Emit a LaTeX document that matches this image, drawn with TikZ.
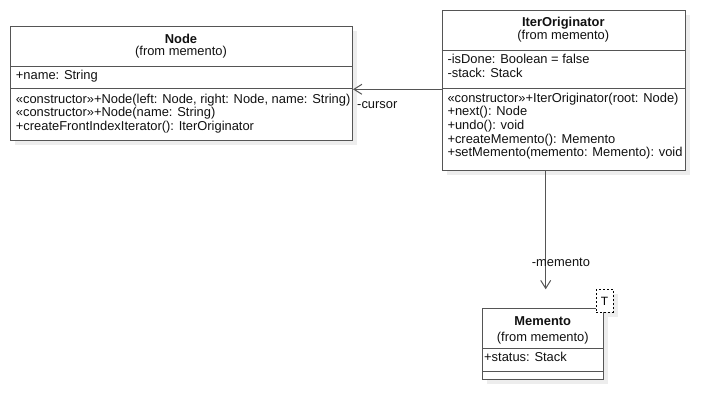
\documentclass[tikz,border=0pt]{standalone}
\usepackage{fontspec}
\setmainfont{Liberation Sans}
\usetikzlibrary{arrows.meta}
\definecolor{linec}{HTML}{555555}
\definecolor{shadowc}{HTML}{EDEDED}
\definecolor{textc}{HTML}{111111}
\tikzset{
  txt/.style={inner sep=0pt, anchor=base west, text=textc, font=\fontsize{12.9}{13.6}\selectfont},
  ttl/.style={inner sep=0pt, anchor=base, text=textc, font=\fontsize{12.9}{13.6}\selectfont\bfseries},
  sub/.style={inner sep=0pt, anchor=base, text=textc, font=\fontsize{12.9}{13.6}\selectfont},
  classbox/.style={draw=linec, line width=1pt, fill=white, inner sep=0pt, anchor=north west},
  shadowbox/.style={fill=shadowc, draw=none},
  sepline/.style={draw=linec, line width=1pt},
  tmpl/.style={draw=black, dashed, dash pattern=on 2pt off 2pt, line width=0.8pt, fill=white, inner sep=0pt, anchor=north west, minimum width=17pt, minimum height=22.4pt, font=\fontsize{12}{12}\selectfont},
  assoc/.style={draw=linec, line width=1pt, -{Straight Barb[length=8pt,width=10pt,line width=1pt]}},
}
\begin{document}
\begin{tikzpicture}[x=1pt,y=-1pt]
\useasboundingbox (0,0) rectangle (725,420);
% shadows
\fill[shadowc] (15,31) rectangle (357,145);
\fill[shadowc] (446.7,15) rectangle (690,175);
\fill[shadowc] (487.3,312.7) rectangle (608.3,384.3);
\fill[shadowc] (600.7,294.3) rectangle (617.7,316.7);
% Node class
\node[classbox, minimum width=342pt, minimum height=114pt] (node) at (10,26) {};
\draw[sepline] (10,66.7) -- (352,66.7);
\draw[sepline] (10,88.3) -- (352,88.3);
\node[ttl] (nodeT) at (181,43.3) {Node};
\node[sub] (nodeF) at (181,56) {(from memento)};
\node[txt] (nodeA) at (15.7,79) {+name: String};
\node[txt] (nodeO1) at (15.7,103.3) {«constructor»+Node(left: Node, right: Node, name: String)};
\node[txt] (nodeO2) at (15.7,116.7) {«constructor»+Node(name: String)};
\node[txt] (nodeO3) at (15.7,130) {+createFrontIndexIterator(): IterOriginator};
% IterOriginator class
\node[classbox, minimum width=243.3pt, minimum height=160pt] (iter) at (441.7,10) {};
\draw[sepline] (441.7,50.7) -- (685,50.7);
\draw[sepline] (441.7,88.3) -- (685,88.3);
\node[ttl] (iterT) at (563.3,27) {IterOriginator};
\node[sub] (iterF) at (563.3,40) {(from memento)};
\node[txt] (iterA1) at (447.3,63.3) {-isDone: Boolean = false};
\node[txt] (iterA2) at (447.3,77.3) {-stack: Stack};
\node[txt] (iterO1) at (447.3,102.3) {«constructor»+IterOriginator(root: Node)};
\node[txt] (iterO2) at (447.3,115.9) {+next(): Node};
\node[txt] (iterO3) at (447.3,129.5) {+undo(): void};
\node[txt] (iterO4) at (447.3,143.1) {+createMemento(): Memento};
\node[txt] (iterO5) at (447.3,156.7) {+setMemento(memento: Memento): void};
% Memento class
\node[classbox, minimum width=121pt, minimum height=71.6pt] (mem) at (482.3,307.7) {};
\draw[sepline] (482.3,348.3) -- (603.3,348.3);
\draw[sepline] (482.3,371) -- (603.3,371);
\node[ttl] (memT) at (542.8,325) {Memento};
\node[sub] (memF) at (542.8,341) {(from memento)};
\node[txt] (memA) at (484,361.7) {+status: Stack};
\node[tmpl] (tbox) at (595.7,289.3) {T};
% associations
\coordinate (curY) at (0,89.3);
\coordinate (memX) at (545.7,0);
\draw[assoc] (iter.west |- curY) -- (node.east |- curY);
\node[txt] (lcur) at (357,108) {-cursor};
\draw[assoc] (iter.south -| memX) -- (tbox.north -| memX);
\node[txt] (lmem) at (531.7,266.7) {-memento};
\end{tikzpicture}
\end{document}
